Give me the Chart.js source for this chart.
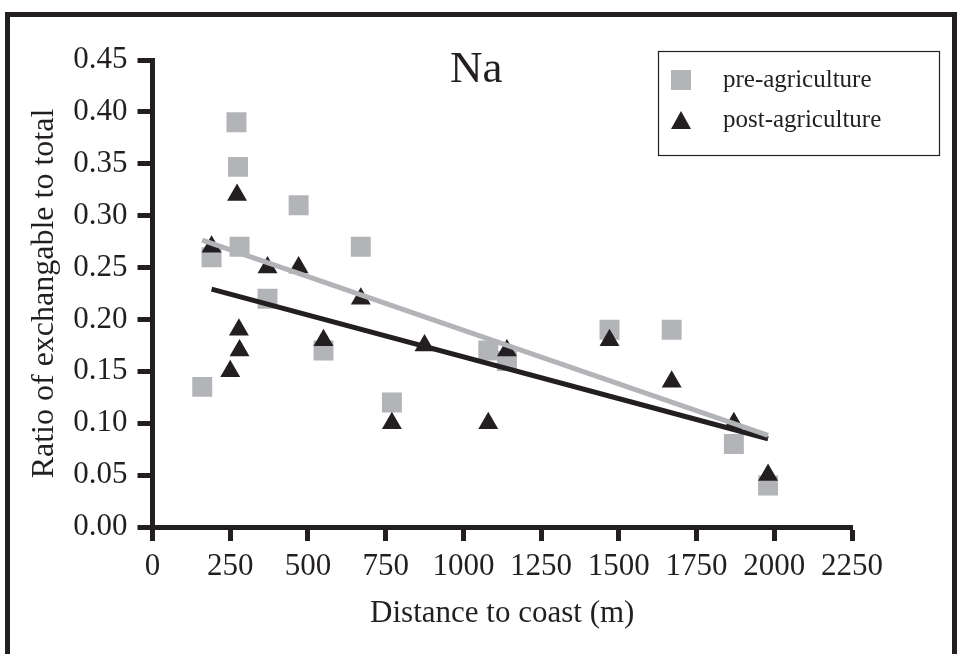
<!DOCTYPE html>
<html>
<head>
<meta charset="utf-8">
<script src="https://cdn.jsdelivr.net/npm/chart.js@4.4.0/dist/chart.umd.min.js"></script>
<style>
    html, body { margin: 0; padding: 0; background: #fff; overflow: hidden; }
    #wrap { position: relative; width: 961px; height: 654px; }
    #frame {
        position: absolute; left: 5px; top: 12px; width: 952px; height: 700px;
        box-sizing: border-box; border: 5px solid #231f20; border-bottom: none;
    }
    #chart { position: absolute; left: 0; top: 0; }
</style>
</head>
<body>
<div id="wrap">
    <div id="frame"></div>
    <canvas id="chart" width="961" height="654"></canvas>
</div>
<script>
// Values
const preX = [160, 190, 270, 275, 280, 370, 470, 550, 670, 770, 1080, 1140, 1470, 1670, 1870, 1980];
const preY = [0.135, 0.26, 0.39, 0.347, 0.27, 0.22, 0.31, 0.17, 0.27, 0.12, 0.17, 0.16, 0.19, 0.19, 0.08, 0.04];
const postX = [190, 250, 272, 278, 280, 370, 470, 550, 670, 770, 875, 1080, 1140, 1470, 1670, 1870, 1980];
const postY = [0.27, 0.15, 0.32, 0.19, 0.17, 0.25, 0.25, 0.18, 0.22, 0.10, 0.175, 0.10, 0.17, 0.18, 0.14, 0.10, 0.05];
const seriesLabels = ['pre-agriculture', 'post-agriculture'];
const chartTitle = 'Na';
const xTitle = 'Distance to coast (m)';
const yTitle = 'Ratio of exchangable to total';

const DARK = '#231f20';
const GREY = '#b3b4b7';
const FONT = '"Liberation Serif", "Times New Roman", serif';

function toPoints(xs, ys) {
    return xs.map((x, i) => ({ x: x, y: ys[i] }));
}

// least squares line over the range of the data
function fitLine(xs, ys) {
    const n = xs.length;
    const mx = xs.reduce((a, b) => a + b, 0) / n;
    const my = ys.reduce((a, b) => a + b, 0) / n;
    let sxy = 0, sxx = 0;
    xs.forEach((x, i) => { sxy += (x - mx) * (ys[i] - my); sxx += (x - mx) * (x - mx); });
    const slope = sxy / sxx;
    const x0 = Math.min(...xs), x1 = Math.max(...xs);
    return [{ x: x0, y: my + slope * (x0 - mx) }, { x: x1, y: my + slope * (x1 - mx) }];
}

// title drawn inside the plot, like the original
const titlePlugin = {
    id: 'insideTitle',
    afterDraw(chart) {
        const { ctx, chartArea } = chart;
        ctx.save();
        ctx.font = '45px ' + FONT;
        ctx.fillStyle = DARK;
        ctx.textAlign = 'center';
        ctx.textBaseline = 'alphabetic';
        ctx.fillText(chartTitle, (chartArea.left + chartArea.right) / 2 - 26, 82);
        ctx.restore();
    }
};

// boxed legend at the top right
const legendPlugin = {
    id: 'boxLegend',
    afterDraw(chart) {
        const ctx = chart.ctx;
        ctx.save();
        ctx.strokeStyle = DARK;
        ctx.lineWidth = 1.2;
        ctx.strokeRect(658.5, 51.5, 281, 104);

        ctx.fillStyle = GREY;
        ctx.fillRect(671, 70, 20, 20);

        ctx.fillStyle = DARK;
        ctx.beginPath();
        ctx.moveTo(681, 111);
        ctx.lineTo(691, 129);
        ctx.lineTo(671, 129);
        ctx.closePath();
        ctx.fill();

        ctx.font = '25px ' + FONT;
        ctx.textAlign = 'left';
        ctx.textBaseline = 'middle';
        ctx.fillText(seriesLabels[0], 723, 80);
        ctx.fillText(seriesLabels[1], 723, 120);
        ctx.restore();
    }
};

const ctx = document.getElementById('chart').getContext('2d');
new Chart(ctx, {
    type: 'scatter',
    data: {
        datasets: [
            {
                type: 'line',
                label: 'pre fit',
                data: fitLine(preX, preY),
                borderColor: GREY,
                borderWidth: 5,
                pointRadius: 0,
                fill: false,
                order: 0
            },
            {
                type: 'line',
                label: 'post fit',
                data: fitLine(postX, postY),
                borderColor: DARK,
                borderWidth: 5,
                pointRadius: 0,
                fill: false,
                order: 1
            },
            {
                label: seriesLabels[1],
                data: toPoints(postX, postY),
                pointStyle: 'triangle',
                pointRadius: 11.5,
                pointBackgroundColor: DARK,
                pointBorderWidth: 0,
                order: 2
            },
            {
                label: seriesLabels[0],
                data: toPoints(preX, preY),
                pointStyle: 'rect',
                pointRadius: 14.1,
                pointBackgroundColor: GREY,
                pointBorderWidth: 0,
                order: 3
            }
        ]
    },
    options: {
        responsive: false,
        animation: false,
        layout: { padding: { left: 0, right: 109, top: 60, bottom: 0 } },
        plugins: {
            legend: { display: false },
            tooltip: { enabled: false }
        },
        scales: {
            x: {
                type: 'linear',
                min: 0,
                max: 2250,
                afterFit(scale) { scale.height = 127; },
                ticks: {
                    stepSize: 250,
                    color: DARK,
                    padding: 7,
                    maxRotation: 0,
                    autoSkip: false,
                    font: { family: FONT, size: 31 },
                    callback: v => String(v)
                },
                grid: {
                    drawOnChartArea: false,
                    drawTicks: true,
                    tickLength: 14,
                    tickWidth: 5,
                    tickColor: DARK
                },
                border: { display: true, color: DARK, width: 5 },
                title: {
                    display: true,
                    text: xTitle,
                    color: DARK,
                    font: { family: FONT, size: 31 },
                    padding: { top: 0, bottom: 22 }
                }
            },
            y: {
                type: 'linear',
                min: 0,
                max: 0.45,
                afterFit(scale) { scale.width = 152.5; },
                ticks: {
                    stepSize: 0.05,
                    color: DARK,
                    padding: 10,
                    font: { family: FONT, size: 31 },
                    callback: v => v.toFixed(2)
                },
                grid: {
                    drawOnChartArea: false,
                    drawTicks: true,
                    tickLength: 15,
                    tickWidth: 5,
                    tickColor: DARK
                },
                border: { display: true, color: DARK, width: 5 },
                title: {
                    display: true,
                    text: yTitle,
                    color: DARK,
                    font: { family: FONT, size: 32 },
                    padding: { top: 25, bottom: 0 }
                }
            }
        }
    },
    plugins: [titlePlugin, legendPlugin]
});
</script>
</body>
</html>
